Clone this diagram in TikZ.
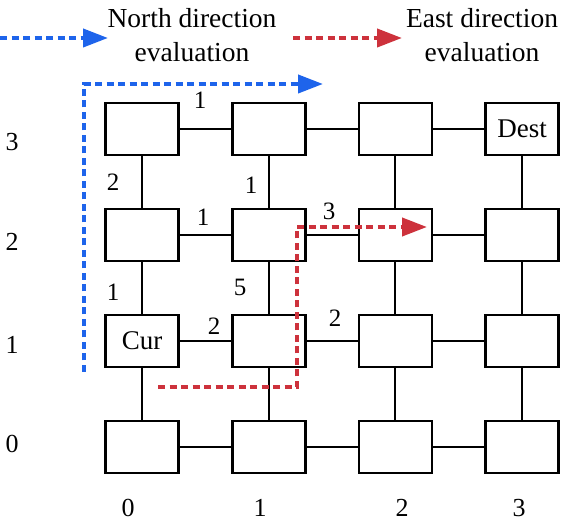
\documentclass[tikz,border=0pt]{standalone}
\usepackage{fontspec}
\setmainfont{Liberation Serif}
\usetikzlibrary{arrows.meta}
\definecolor{northblue}{RGB}{30,100,235}
\definecolor{eastred}{RGB}{205,50,60}

\begin{document}
\begin{tikzpicture}[x=1pt,y=-1pt,
		cell/.style={draw, line width=2.6pt, minimum width=73pt, minimum height=52pt, inner sep=0pt},
		link/.style={line width=2pt},
		wt/.style={font=\fontsize{25}{28}\selectfont, inner sep=0pt},
		axis/.style={font=\fontsize{26}{28}\selectfont, inner sep=0pt},
		legend/.style={font=\fontsize{27.5}{30}\selectfont, inner sep=0pt, anchor=base},
		evalpath/.style={line width=4pt, dash pattern=on 7pt off 4.5pt, -{Triangle[length=25pt,width=18pt]}}]
		
		\useasboundingbox (0,0) rectangle (565,526);
		
		%
		\foreach \i [evaluate=\i as \x using 142+126.7*\i] in {0,...,3} {
			\foreach \j [evaluate=\j as \y using 447-106*\j] in {0,...,3} {
				\node[cell] (n\i\j) at (\x,\y) {};
			}
		}
		
		\node[font=\fontsize{27}{30}\selectfont] (cur) at (n01) {Cur};
		\node[font=\fontsize{27}{30}\selectfont] (dest) at (n33) {Dest};
		
		%
		\foreach \i [evaluate=\i as \k using int(\i+1)] in {0,1,2} {
			\foreach \j in {0,...,3} {
				\draw[link] (n\i\j) -- (n\k\j);
				\draw[link] (n\j\i) -- (n\j\k);
			}
		}
		
		\node[wt] (w1) at (200,100) {1};
		\node[wt] (w2) at (113,182) {2};
		\node[wt] (w3) at (251,185) {1};
		\node[wt] (w4) at (203,217) {1};
		\node[wt] (w5) at (329,211) {3};
		\node[wt] (w6) at (113,292) {1};
		\node[wt] (w7) at (240,287) {5};
		\node[wt] (w8) at (214,326) {2};
		\node[wt] (w9) at (335,318) {2};
		
		\foreach \v/\y in {0/444,1/345,2/242,3/142} {
			\node[axis] (row\v) at (12,\y) {\v};
		}
		\foreach \v/\x in {0/128,1/260,2/402,3/519} {
			\node[axis] (col\v) at (\x,508) {\v};
		}
		
		%
		\coordinate (nleg0) at (0,38);
		\coordinate (nleg1) at (108,38);
		\draw[evalpath, northblue] (nleg0) -- (nleg1);
		\node[legend] (ntext1) at (192,28) {North direction};
		\node[legend] (ntext2) at (192,62) {evaluation};
		
		\coordinate (eleg0) at (293,38);
		\coordinate (eleg1) at (402,38);
		\draw[evalpath, eastred] (eleg0) -- (eleg1);
		\node[legend] (etext1) at (482,28) {East direction};
		\node[legend] (etext2) at (482,62) {evaluation};
		
		%
		\coordinate (nA) at (84,372);
		\coordinate (nB) at (84,84);
		\coordinate (nC) at (323,84);
		\draw[evalpath, northblue] (nA) -- (nB) -- (nC);
		
		\coordinate (eA) at (158,387);
		\coordinate (eB) at (297,387);
		\coordinate (eC) at (297,227);
		\coordinate (eD) at (427,227);
		\draw[evalpath, eastred] (eA) -- (eB) -- (eC) -- (eD);
		
	\end{tikzpicture}
\end{document}
